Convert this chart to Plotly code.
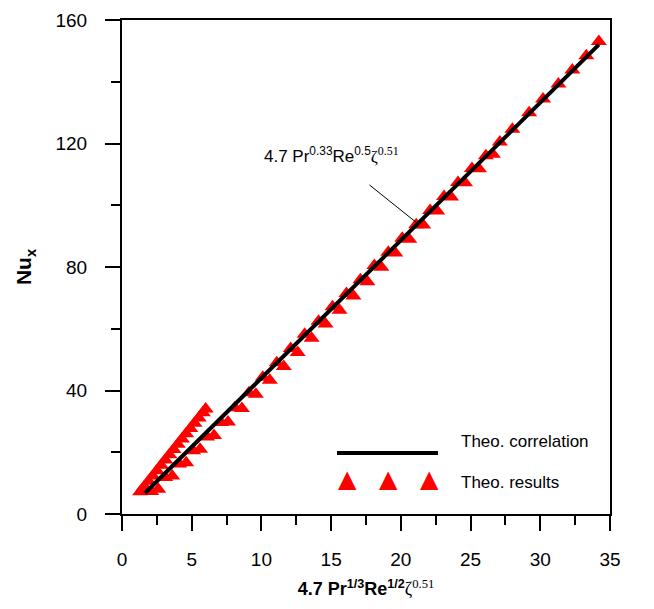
import plotly.graph_objects as go

# Theoretical correlation line (end points)
corr_x = [1.65, 34.2]
corr_y = [6.8, 152.0]

# Theoretical results: steep lower branch
branch_x = [1.3, 1.6, 1.9, 2.2, 2.5, 2.8, 3.1, 3.4, 3.7, 4.0, 4.3, 4.6, 4.9, 5.2, 5.5, 5.8, 6.0]
branch_y = [7.2, 8.9, 10.6, 12.3, 14.0, 15.8, 17.5, 19.2, 20.9, 22.6, 24.3, 26.0, 27.7, 29.4, 31.1, 32.8, 34.0]

# Theoretical results: points lying on the correlation
on_x = [2.1, 3.1, 4.1, 5.1, 6.1, 7.1, 8.1, 9.1, 10.1, 11.1, 12.1, 13.1, 14.1, 15.1, 16.1, 17.1,
        18.1, 19.1, 20.1, 21.1, 22.1, 23.1, 24.1, 25.1, 26.1, 27.1, 28.0, 29.2, 30.2, 31.3, 32.3, 33.3, 34.2]
on_y = [7.3, 11.8, 16.2, 20.5, 24.9, 29.6, 34.4, 39.3, 44.3, 49.0, 53.6, 58.2, 62.4, 67.1, 71.4, 75.9,
        80.5, 84.8, 89.3, 93.7, 98.3, 102.8, 107.4, 111.9, 116.0, 120.5, 124.6, 130.0, 134.4, 139.3, 143.8, 148.4, 153.0]

# Theoretical results: points slightly below the correlation
below_x = [2.6, 3.6, 4.6, 5.6, 6.6, 7.6, 8.6, 9.6, 10.6, 11.6, 12.6, 13.6, 14.6, 15.6, 16.6, 17.6,
           18.6, 19.6, 20.6, 21.6, 22.6, 23.6, 24.6, 25.6, 26.6]
below_y = [8.0, 12.3, 16.6, 21.0, 25.4, 29.8, 34.2, 38.8, 43.3, 47.8, 52.3, 56.9, 61.5, 66.0, 70.6, 75.2,
           79.9, 84.5, 89.0, 93.6, 98.1, 102.7, 107.3, 111.8, 116.5]

x_ticks = [0, 5, 10, 15, 20, 25, 30, 35]
y_ticks = [0, 40, 80, 120, 160]

RED = "#ff0000"
SANS = "Liberation Sans, Arial, sans-serif"

fig = go.Figure()
marker = dict(symbol="triangle-up", size=14, color=RED, line=dict(width=0))
for xs, ys in [(branch_x, branch_y), (below_x, below_y), (on_x, on_y)]:
    fig.add_trace(go.Scatter(x=xs, y=ys, mode="markers", marker=marker,
                             name="Theo. results", showlegend=False))
fig.add_trace(go.Scatter(x=corr_x, y=corr_y, mode="lines",
                         line=dict(color="black", width=4),
                         name="Theo. correlation", showlegend=False))

axis_common = dict(
    showgrid=False, zeroline=False, showline=True, linecolor="black", linewidth=2,
    mirror=True, ticks="outside", ticklen=15, tickwidth=2, tickcolor="black",
    tickfont=dict(family=SANS, size=19, color="black"),
)

fig.update_xaxes(
    range=[0, 35], tickvals=x_ticks, ticklabelstandoff=12,
    minor=dict(dtick=2.5, tick0=0, ticks="outside", ticklen=9, tickwidth=2, tickcolor="black", showgrid=False),
    title=dict(text="<b>4.7 Pr<sup>1/3</sup>Re<sup>1/2</sup></b><span style='font-family:Liberation Serif'>ζ<sup>0.51</sup></span>",
               font=dict(family=SANS, size=18, color="black"), standoff=14),
    **axis_common,
)
fig.update_yaxes(
    range=[0, 160], tickvals=y_ticks, ticklabelstandoff=14,
    minor=dict(dtick=20, tick0=0, ticks="outside", ticklen=9, tickwidth=2, tickcolor="black", showgrid=False),
    title=dict(text="<b>Nu<sub>x</sub></b>", font=dict(family=SANS, size=21, color="black"), standoff=18),
    **axis_common,
)

# Leader-line annotation for the correlation
fig.add_annotation(
    x=21.06, y=94.6, ax=15.06, ay=116.3, xref="x", yref="y", axref="x", ayref="y",
    text="4.7 Pr<sup>0.33</sup>Re<sup>0.5</sup><span style='font-family:Liberation Serif'>ζ<sup>0.51</sup></span>",
    font=dict(family=SANS, size=17, color="black"),
    showarrow=True, arrowhead=0, arrowwidth=1, arrowcolor="black", startstandoff=28,
)

# Manual legend (line sample, three triangle samples, labels)
fig.add_shape(type="line", xref="paper", yref="paper", x0=0.4406, x1=0.6475, y0=0.1235, y1=0.1235,
              line=dict(color="black", width=4))
for px in [0.4631, 0.5471, 0.6311]:
    fig.add_annotation(xref="paper", yref="paper", x=px, y=0.038, text="▲", showarrow=False,
                       font=dict(family="DejaVu Sans", size=24, color=RED))
fig.add_annotation(xref="paper", yref="paper", x=0.6906, y=0.1235, xanchor="left", text="Theo. correlation",
                   showarrow=False, font=dict(family=SANS, size=17, color="black"))
fig.add_annotation(xref="paper", yref="paper", x=0.6906, y=0.040, xanchor="left", text="Theo. results",
                   showarrow=False, font=dict(family=SANS, size=17, color="black"))

fig.update_layout(
    width=646, height=601,
    margin=dict(l=114, r=44, t=12, b=95, autoexpand=False),
    plot_bgcolor="white", paper_bgcolor="white",
    showlegend=False,
)

fig.write_html("out.html")
